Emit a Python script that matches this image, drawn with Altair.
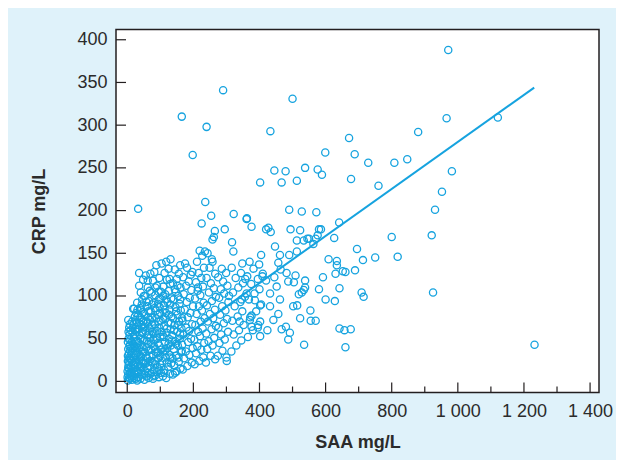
import altair as alt
import pandas as pd

# ---- data (SAA mg/L, CRP mg/L) ----
cluster_points = [
    (2,1),(5,4),(3,8),(8,3),(1,12),(6,15),(4,19),(9,10),(2,24),(7,28),(5,33),(3,38),(8,43),(6,22),(10,6),(4,50),(7,55),(11,17),(2,30),(9,36),
    (1,5),(3,16),(5,27),(7,41),(2,46),(4,58),(6,63),(9,49),(11,26),(12,39),(10,60),(8,67),(3,72),(12,8),
    (14,2),(18,6),(13,11),(22,9),(16,15),(25,13),(20,19),(15,24),(24,22),(19,28),(13,33),(26,31),(17,38),(22,41),(14,46),(27,47),(20,52),(16,58),(24,61),(19,67),(23,76),(27,80),(15,70),(21,4),(26,3),
    (17,20),(21,31),(25,36),(18,44),(23,55),(28,58),(17,63),(29,69),(25,72),(21,85),(29,40),(27,25),(18,85),
    (30,1),(34,5),(40,3),(45,8),(31,12),(38,14),(44,17),(33,20),(48,22),(36,26),(42,29),(30,33),(47,35),(35,39),(41,43),(32,47),(46,49),(38,54),(44,57),(31,61),(49,63),(36,68),(42,72),(33,77),(47,81),(39,86),(45,96),(42,84),(36,112),(48,119),(36,127),(30,92),
    (33,9),(39,18),(43,24),(37,31),(46,40),(34,45),(40,50),(47,58),(35,62),(43,66),(39,75),(48,70),(31,84),(44,90),(50,100),(41,104),
    (52,2),(58,6),(65,4),(71,9),(54,12),(62,15),(69,18),(56,21),(74,23),(60,27),(67,30),(53,34),(72,37),(58,40),(64,44),(51,48),(70,51),(61,54),(55,59),(68,62),(74,66),(57,70),(63,75),(52,79),(71,82),(60,88),(66,94),(54,100),(73,104),(62,110),(56,124),(70,126),
    (55,8),(62,10),(68,24),(57,30),(64,36),(73,44),(59,47),(66,55),(75,58),(53,64),(60,68),(69,72),(64,82),(75,90),(58,93),(68,106),(62,118),
    (78,3),(85,7),(96,5),(102,10),(80,13),(91,16),(99,20),(83,24),(94,27),(77,31),(88,34),(103,37),(81,41),(93,45),(86,49),(100,52),(79,56),(90,59),(97,63),(84,67),(101,71),(76,75),(92,78),(87,83),(98,87),(80,92),(95,96),(85,101),(102,105),(90,112),(78,118),(97,121),(88,136),(104,138),(82,128),
    (80,6),(89,11),(97,14),(84,20),(93,33),(100,30),(86,38),(97,42),(80,48),(90,51),(104,58),(82,62),(95,70),(88,74),(99,80),(83,86),(93,91),(100,97),(85,110),(95,105),
    (108,6),(118,4),(129,9),(112,13),(124,17),(133,21),(106,24),(116,28),(127,31),(110,35),(121,39),(132,42),(114,46),(126,50),(107,54),(119,57),(131,61),(112,65),(124,69),(108,73),(134,76),(117,80),(128,84),(111,89),(122,93),(133,97),(115,102),(126,106),(109,111),(130,114),(120,119),(113,127),(125,132),(118,140),(131,143),
    (112,10),(120,22),(130,28),(115,36),(125,44),(135,48),(110,52),(120,62),(132,68),(116,74),(126,78),(113,84),(130,90),(118,96),(108,100),(128,120),
    (138,8),(150,12),(161,15),(142,19),(156,23),(137,27),(148,30),(163,34),(141,38),(153,42),(145,47),(159,50),(136,54),(151,58),(164,62),(143,66),(157,70),(139,74),(152,78),(162,83),(146,87),(158,91),(140,96),(154,100),(147,105),(161,110),(138,115),(150,120),(156,126),(144,131),(160,136),
    (145,10),(155,28),(165,36),(148,44),(160,56),(142,60),(155,66),(166,74),(148,82),(160,96),(144,108),(152,112),
    (168,14),(182,18),(195,22),(172,27),(188,31),(177,35),(198,39),(166,43),(184,46),(193,50),(170,55),(187,59),(179,63),(196,67),(167,71),(183,75),(191,80),(174,84),(199,88),(180,93),(189,98),(171,102),(194,107),(178,112),(186,117),(169,122),(197,128),(181,133),(192,125),(175,138),
    (204,20),(218,24),(230,28),(208,33),(224,37),(212,41),(233,45),(203,49),(220,53),(215,58),(228,62),(206,66),(222,70),(234,74),(210,79),(226,83),(217,88),(231,92),(205,97),(221,101),(213,106),(229,111),(208,116),(224,121),(216,127),(232,133),(211,140),(227,147),(219,153),(214,110),
    (238,22),(252,30),(266,26),(242,38),(258,42),(246,47),(263,51),(239,56),(255,61),(268,65),(244,70),(260,74),(250,79),(265,84),(241,89),(256,94),(268,99),(247,104),(262,109),(253,115),(240,121),(266,126),(249,133),(258,140),(243,150),
    (274,30),(288,36),(300,28),(279,45),(295,49),(284,55),(305,58),(276,63),(292,68),(302,73),(281,78),(297,83),(287,88),(306,93),(278,98),(293,103),(283,108),(303,112),(290,117),(275,122),(299,127),(286,132),(308,100),(301,24),
    (315,35),(330,42),(345,48),(322,55),(338,60),(352,66),(318,71),(334,76),(348,82),(325,88),(342,93),(356,99),(320,104),(336,110),(350,115),(328,121),(344,127),(316,133),(357,120),(340,70),
    (365,52),(380,60),(396,66),(372,75),(390,82),(405,90),(368,96),(385,103),(400,108),(375,114),(395,120),(410,126),(382,132),(370,140),(405,148),
]

spread_points = [
    (33,202),(165,310),(290,341),(240,298),(198,265),(500,331),(433,293),(402,233),(445,247),(467,233),(479,246),(513,235),
    (538,250),(576,248),(589,242),(599,268),(671,285),(688,266),(677,237),(236,210),(254,194),(322,196),(362,191),(490,201),
    (528,199),(572,198),(971,388),(966,308),(1121,309),(880,292),(729,256),(808,256),(847,260),(760,229),(982,246),(952,222),
    (931,201),(921,171),(925,104),(1232,43),(800,169),(818,146),(750,145),(695,155),(713,142),(689,130),(709,104),(715,99),
    (676,61),(657,60),(642,62),(660,40),(535,43),(554,83),(570,71),(555,71),(600,96),(628,94),(580,108),(642,109),(592,122),
    (630,126),(652,129),(538,118),(538,110),(528,104),(609,143),(634,141),(626,168),(641,186),(586,178),(576,171),(563,161),
    (550,167),(534,165),(523,74),(634,136),(660,128),(514,89),(519,102),(534,107),(509,124),(504,116),(490,148),(513,152),
    (513,165),(545,167),(523,177),(570,167),(580,178),(494,178),(420,178),(427,180),(434,175),(376,181),(361,190),(295,178),
    (265,176),(262,169),(258,166),(225,185),(317,163),(321,152),(348,138),(235,152),(256,143),(363,123),(447,158),(462,148),
    (399,137),(402,89),(376,77),(371,72),(376,64),(402,70),(424,60),(395,63),(402,53),(432,88),(457,79),(467,61),(480,64),
    (487,49),(492,57),(502,88),(386,95),(409,123),(420,118),(445,122),(457,139),(464,131),(482,127),(487,117),(452,111),
    (432,103),(462,96),(442,72),(361,103),(346,96),
]

fit_saa = [0, 1231]
fit_crp = [5, 344]

x_major_ticks = [0, 200, 400, 600, 800, 1000, 1200, 1400]
x_minor_ticks = [100, 300, 500, 700, 900, 1100, 1300]
y_ticks = [0, 50, 100, 150, 200, 250, 300, 350, 400]

# ---- styling ----
W, H = 483, 363
BLUE = "#16a3df"
DARK = "#231f20"
TEXT = "#2b2b2b"
FONT = "Liberation Sans"

pts = pd.DataFrame(cluster_points + spread_points, columns=["saa", "crp"])
fit = pd.DataFrame({"saa": fit_saa, "crp": fit_crp})

xscale = alt.Scale(domain=[-34, 1427], nice=False, zero=False)
yscale = alt.Scale(domain=[-13, 412], nice=False, zero=False)

xaxis = alt.Axis(
    values=x_major_ticks, title="SAA mg/L", grid=False, ticks=False, domain=False,
    labelExpr="replace(format(datum.value, ','), ',', ' ')",
    labelFont=FONT, labelFontSize=18, labelColor=TEXT, labelPadding=10,
    titleFont=FONT, titleFontSize=18, titleFontWeight="bold", titleColor=TEXT, titlePadding=13,
)
yaxis = alt.Axis(
    values=y_ticks, title="CRP mg/L", grid=False, ticks=False, domain=False,
    labelFont=FONT, labelFontSize=18, labelColor=TEXT, labelPadding=9,
    titleFont=FONT, titleFontSize=18, titleFontWeight="bold", titleColor=TEXT, titlePadding=28,
)

points = alt.Chart(pts).mark_point(
    shape="circle", filled=False, size=52, strokeWidth=1.3, color=BLUE, opacity=1
).encode(
    x=alt.X("saa:Q", scale=xscale, axis=xaxis),
    y=alt.Y("crp:Q", scale=yscale, axis=yaxis),
)

line = alt.Chart(fit).mark_line(color=BLUE, strokeWidth=2).encode(
    x=alt.X("saa:Q", scale=xscale, axis=xaxis),
    y=alt.Y("crp:Q", scale=yscale, axis=yaxis),
)

xmaj = alt.Chart(pd.DataFrame({"saa": x_major_ticks})).mark_rule(color=DARK, strokeWidth=1.2).encode(
    x=alt.X("saa:Q", scale=xscale, axis=xaxis), y=alt.value(H), y2=alt.value(H - 10))
xmin = alt.Chart(pd.DataFrame({"saa": x_minor_ticks})).mark_rule(color=DARK, strokeWidth=1.2).encode(
    x=alt.X("saa:Q", scale=xscale, axis=xaxis), y=alt.value(H), y2=alt.value(H - 6))
ytk = alt.Chart(pd.DataFrame({"crp": y_ticks})).mark_rule(color=DARK, strokeWidth=1.2).encode(
    y=alt.Y("crp:Q", scale=yscale, axis=yaxis), x=alt.value(0), x2=alt.value(10))

chart = alt.layer(points, line, xmaj, xmin, ytk).properties(
    width=W, height=H,
    autosize=alt.AutoSizeParams(type="none"),
    padding={"left": 108, "top": 21.5, "right": 17, "bottom": 67},
    background="#dff2fa",
).configure_view(
    stroke=DARK, strokeWidth=1.5, fill="white"
)

chart.save("out.html", embed_options={"renderer": "svg", "actions": False})
